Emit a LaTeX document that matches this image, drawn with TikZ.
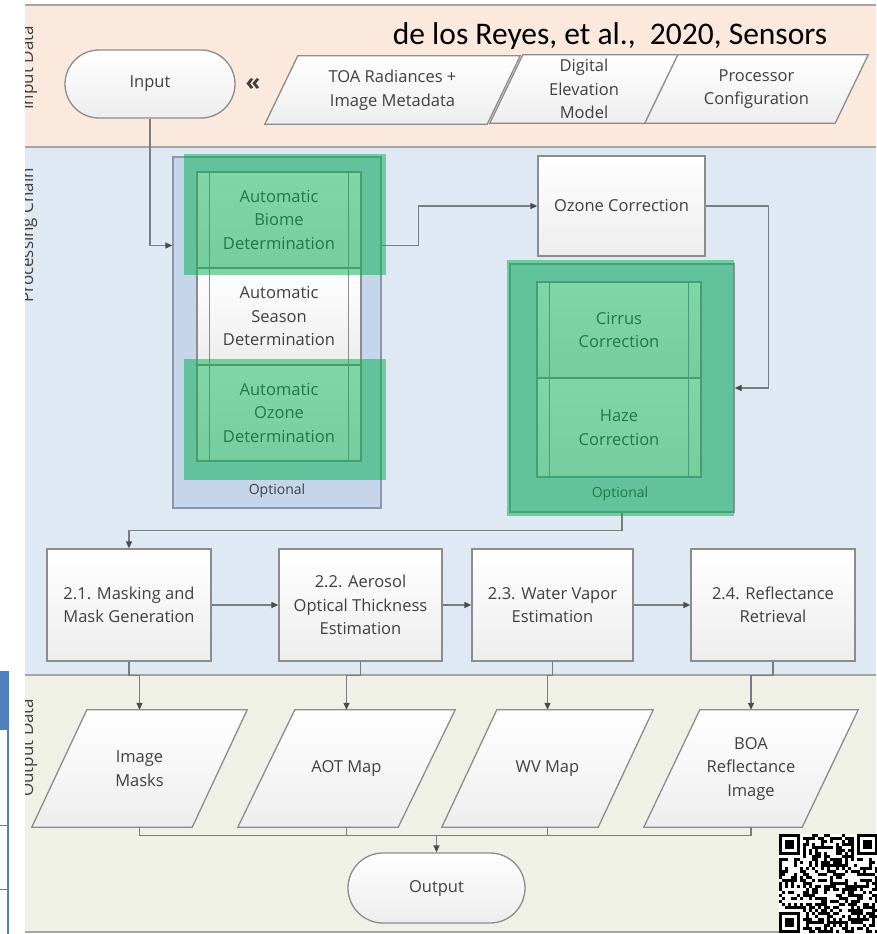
\documentclass[tikz,border=0pt]{standalone}
\usepackage{fontspec}
\setmainfont{Open Sans}
\newfontfamily\citefont{Carlito}
\usetikzlibrary{arrows.meta,calc}
\definecolor{laneIn}{RGB}{251,233,221}
\definecolor{laneProc}{RGB}{222,233,244}
\definecolor{laneOut}{RGB}{239,241,231}
\definecolor{laneLine}{RGB}{165,165,165}
\definecolor{contBlue}{RGB}{197,214,234}
\definecolor{contLine}{RGB}{140,150,165}
\definecolor{boxLine}{RGB}{140,140,140}
\definecolor{txt}{RGB}{64,64,64}
\definecolor{connC}{RGB}{120,125,130}
\definecolor{hl}{RGB}{0,176,80}
\definecolor{tblBlue}{RGB}{79,129,189}
\pgfdeclarelayer{bg}\pgfdeclarelayer{shapes}\pgfdeclarelayer{top}
\pgfsetlayers{bg,shapes,main,top}
\newcommand\paraShape[2]{\path[parafill] ([xshift=#2]#1.north west) -- (#1.north east) -- ([xshift=-#2]#1.south east) -- (#1.south west) -- cycle;}
\tikzset{
  lbl/.style={font=\fontsize{16.5}{23.5}\selectfont, text=txt, align=center, inner sep=0pt},
  stepbox/.style={lbl, draw=boxLine, line width=1.3pt, top color=white, bottom color=black!7},
  termbox/.style={stepbox},
  parabox/.style={lbl, draw=none, rectangle},
  parafill/.style={draw=boxLine, line width=1.3pt, top color=white, bottom color=black!7},
  contbox/.style={draw=contLine, line width=1.3pt, fill=contBlue, inner sep=0pt},
  optlbl/.style={font=\fontsize{14}{16}\selectfont, text=txt, inner sep=0pt},
  subline/.style={draw=boxLine, line width=1.1pt},
  lanelbl/.style={font=\fontsize{17}{20}\selectfont, text=txt, inner sep=0pt, rotate=90, anchor=base west},
  link/.style={draw=connC, line width=1.3pt, -{Triangle[length=7pt,width=6pt,color=black!70]}},
  plainlink/.style={draw=connC, line width=1.3pt},
  hlbox/.style={fill=hl, fill opacity=0.5},
}
\begin{document}
\begin{tikzpicture}[x=1pt,y=-1pt]
\useasboundingbox (0,0) rectangle (876,934);
% ---------- lanes ----------
\begin{pgfonlayer}{bg}
  \fill[white] (0,0) rectangle (876,934);
  \fill[laneIn] (25,5) rectangle (876,147);
  \fill[laneProc] (25,147) rectangle (876,675);
  \fill[laneOut] (25,675) rectangle (876,932);
  \draw[laneLine, line width=2pt] (25,5) -- (876,5) (25,147) -- (876,147) (25,675) -- (876,675) (25,932) -- (876,932);
  % blue table fragment at the left edge
  \fill[tblBlue] (0,671) rectangle (8,730);
  \draw[tblBlue, line width=1.5pt] (8,671) -- (8,934);
  \draw[tblBlue, line width=1pt] (0,825) -- (8,825) (0,889) -- (8,889);
\end{pgfonlayer}
% lane labels (cut by the lane edge)
\begin{scope}
  \clip (25,5) rectangle (60,147);
  \node[lanelbl] (lblIn) at (33,110) {Input Data};
\end{scope}
\begin{scope}
  \clip (25,147) rectangle (60,675);
  \node[lanelbl] (lblProc) at (33,303) {Processing Chain};
\end{scope}
\begin{scope}
  \clip (25,675) rectangle (60,932);
  \node[lanelbl] (lblOut) at (33,797) {Output Data};
\end{scope}
% citation
\node[font=\citefont\fontsize{31.5}{36}\selectfont, anchor=base, inner sep=0pt] (cite) at (610,45) {de los Reyes, et al.,\ \ 2020, Sensors};
% ---------- input lane ----------
\node[termbox, rounded corners=34pt, minimum width=170pt, minimum height=68pt] (input) at (150,84) {\raisebox{-3pt}{Input}};
\node[lbl, font=\bfseries\fontsize{24}{26}\selectfont] (guil) at (253,84) {«};
\node[parabox, minimum width=255pt, minimum height=68pt] (toa) at (392.5,90) {TOA Radiances +\\Image Metadata};
\node[parabox, minimum width=188pt, minimum height=68pt] (dem) at (584,89) {Digital\\Elevation\\Model};
\node[parabox, minimum width=223pt, minimum height=68pt] (proc) at (756.5,89) {Processor\\Configuration};
% ---------- processing lane ----------
\node[contbox, minimum width=208pt, minimum height=351pt] (optL) at (277,332.5) {};
\node[optlbl] (optLlbl) at (277,491) {Optional};
\node[stepbox, minimum width=164pt, minimum height=96pt] (biome) at (279,220) {Automatic\\Biome\\Determination};
\node[stepbox, minimum width=164pt, minimum height=97pt] (season) at (279,316.5) {Automatic\\Season\\Determination};
\node[stepbox, minimum width=164pt, minimum height=96pt] (ozdet) at (279,413) {Automatic\\Ozone\\Determination};
\node[stepbox, minimum width=167pt, minimum height=100pt] (ozc) at (621.5,206) {Ozone Correction};
\node[contbox, minimum width=224pt, minimum height=248pt] (optR) at (622,388) {};
\node[optlbl] (optRlbl) at (620,494) {Optional};
\node[stepbox, minimum width=164pt, minimum height=96pt] (cirrus) at (619,330) {Cirrus\\Correction};
\node[stepbox, minimum width=164pt, minimum height=99pt] (haze) at (619,427.5) {Haze\\Correction};
\foreach \n in {biome,season,ozdet,cirrus,haze}
  \draw[subline] ([xshift=13pt]\n.north west) -- ([xshift=13pt]\n.south west)
                 ([xshift=-13pt]\n.north east) -- ([xshift=-13pt]\n.south east);
\node[stepbox, minimum width=164pt, minimum height=112pt] (s21) at (129,605) {2.1. Masking and\\Mask Generation};
\node[stepbox, minimum width=163pt, minimum height=112pt] (s22) at (360.5,605) {2.2. Aerosol\\Optical Thickness\\Estimation};
\node[stepbox, minimum width=161pt, minimum height=112pt] (s23) at (552.5,605) {2.3. Water Vapor\\Estimation};
\node[stepbox, minimum width=164pt, minimum height=112pt] (s24) at (773,605) {2.4. Reflectance\\Retrieval};
% ---------- output lane ----------
\node[parabox, minimum width=215pt, minimum height=117pt] (masks) at (139.5,768.5) {Image\\Masks};
\node[parabox, minimum width=217pt, minimum height=117pt] (aot) at (346.5,768.5) {AOT Map};
\node[parabox, minimum width=211pt, minimum height=117pt] (wv) at (547.5,768.5) {WV Map};
\node[parabox, minimum width=214pt, minimum height=117pt] (boa) at (751,768.5) {BOA\\Reflectance\\Image};
\node[termbox, rounded corners=35pt, minimum width=177pt, minimum height=70pt] (output) at (436.5,888) {Output};
% parallelogram outlines
\begin{pgfonlayer}{shapes}
  \paraShape{toa}{33pt}
  \paraShape{dem}{33pt}
  \paraShape{proc}{33pt}
  \paraShape{masks}{55pt}
  \paraShape{aot}{57pt}
  \paraShape{wv}{55pt}
  \paraShape{boa}{56pt}
\end{pgfonlayer}
% ---------- connectors ----------
\draw[link] (input.south) |- ($(optL.north west)!0.253!(optL.south west)$);
\draw[link] ($(optL.north east)!0.253!(optL.south east)$) -- ++(37,0) |- (ozc.west);
\draw[link] (ozc.east) -- ++(63,0) |- (optR.east);
\draw[link] (optR.south) -- ++(0,18) -| (s21.north);
\draw[link] (s21.east) -- (s22.west);
\draw[link] (s22.east) -- (s23.west);
\draw[link] (s23.east) -- (s24.west);
\draw[link] (s21.south) -- ++(0,14) -| (masks.north);
\draw[link] (s22.south) -- ++(0,14) -| (aot.north);
\draw[link] (s23.south) -- ++(0,14) -| (wv.north);
\draw[link] (s24.south) -- ++(0,14) -| (boa.north);
\draw[plainlink] (masks.south) -- ++(0,8) coordinate (jn) -| (boa.south);
\draw[plainlink] (aot.south) -- (aot.south |- jn);
\draw[plainlink] (wv.south) -- (wv.south |- jn);
\draw[link] (output.north |- jn) -- (output.north);
% ---------- green highlights ----------
\begin{pgfonlayer}{top}
  \fill[hlbox] (184,154) rectangle (386,275);
  \fill[hlbox] (184,359) rectangle (386,480);
  \fill[hlbox] (507,260) rectangle (734,516);
  % QR code
  \begin{scope}[shift={(779,834)}, x=3pt, y=-3pt]
    \fill[white] (0,0) rectangle (33,33);
    \pgfmathsetseed{4242}
    \foreach \i in {0,...,32}{
      \foreach \j in {0,...,32}{
        \pgfmathsetmacro\r{rnd}
        \pgfmathtruncatemacro\on{(\r<0.5)*(1-(\i<8)*(\j<8))*(1-(\i>24)*(\j<8))*(1-(\i<8)*(\j>24))}
        \ifnum\on=1 \fill[black] (\i,\j) rectangle ++(1.02,1.02);\fi
      }
    }
    \foreach \a/\b in {0/0,26/0,0/26}{
      \fill[black] (\a,\b) rectangle ++(7,7);
      \fill[white] (\a+1,\b+1) rectangle ++(5,5);
      \fill[black] (\a+2,\b+2) rectangle ++(3,3);
    }
  \end{scope}
\end{pgfonlayer}
\end{tikzpicture}
\end{document}
